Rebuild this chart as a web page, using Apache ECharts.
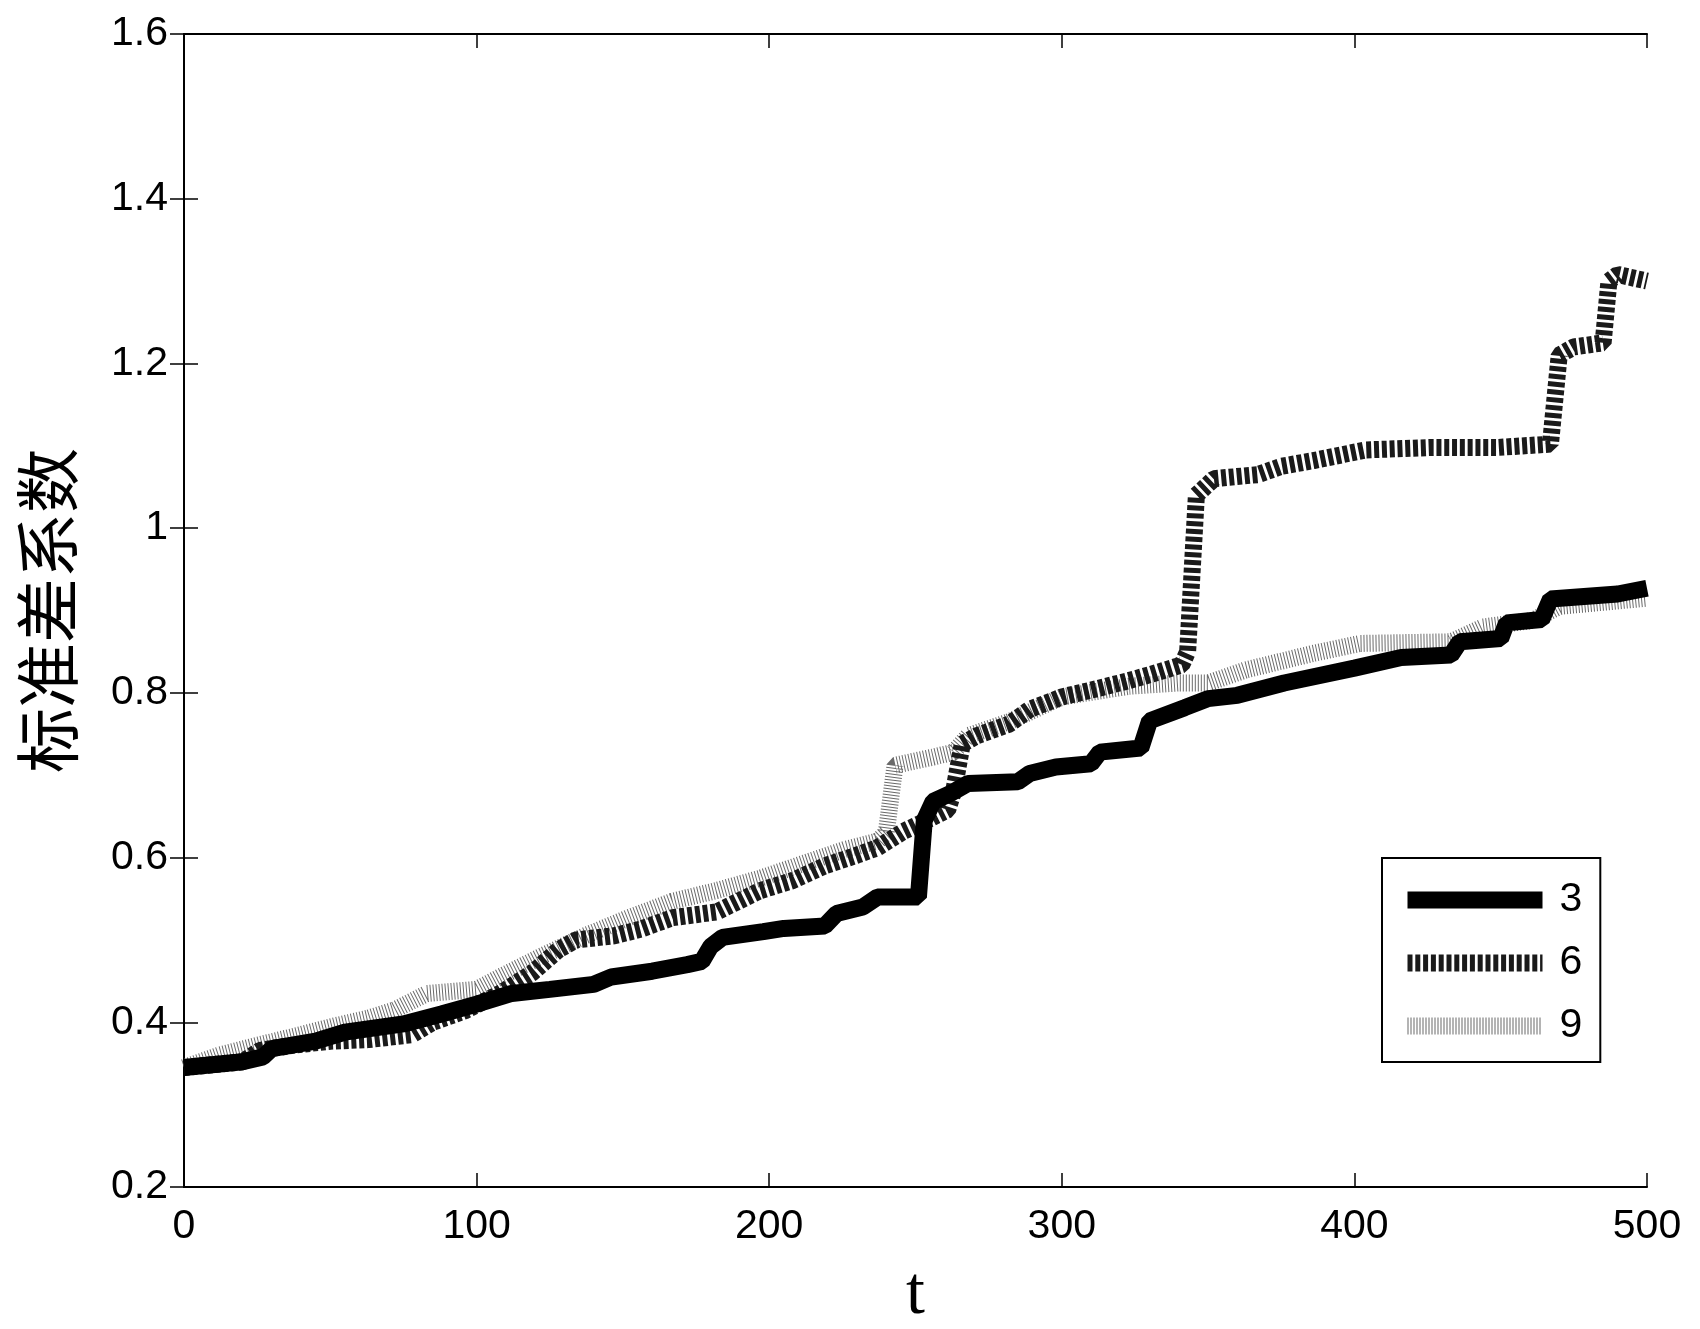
<!DOCTYPE html>
<html>
<head>
<meta charset="utf-8">
<script src="https://cdn.jsdelivr.net/npm/echarts@6/dist/echarts.min.js"></script>
<style>
html,body{margin:0;padding:0;background:#fff;}
#chart{width:1700px;height:1329px;}
</style>
</head>
<body>
<div id="chart"></div>
<script>
// ---- data ----
const seriesNames = ['3', '6', '9'];

const t3 = [0,20,27,30,45,55,75,88,100,112,125,140,146,160,172,177,180,184,198,205,219,223,232,237,251,253,256,262,268,285,289,298,310,313,327,330,342,350,360,376,400,416,433,436,450,452,464,467,490,500];
const v3 = [0.345,0.352,0.358,0.368,0.377,0.388,0.398,0.41,0.422,0.435,0.440,0.446,0.455,0.462,0.470,0.474,0.492,0.503,0.510,0.514,0.517,0.532,0.540,0.552,0.552,0.645,0.668,0.678,0.690,0.692,0.702,0.710,0.714,0.728,0.733,0.766,0.782,0.793,0.797,0.812,0.830,0.843,0.846,0.862,0.866,0.885,0.889,0.914,0.920,0.927];

const t6 = [0,20,26,37,50,63,78,85,96,108,119,128,134,147,156,167,182,197,208,219,230,237,246,252,261,263,266,271,282,289,300,312,323,330,341,343,346,352,367,375,386,397,404,427,449,467,470,475,485,487,490,500];
const v6 = [0.345,0.352,0.366,0.372,0.377,0.379,0.385,0.400,0.414,0.435,0.460,0.488,0.500,0.505,0.513,0.527,0.534,0.560,0.572,0.590,0.603,0.612,0.632,0.642,0.658,0.680,0.738,0.748,0.762,0.780,0.795,0.805,0.815,0.822,0.834,0.850,1.040,1.060,1.065,1.075,1.082,1.090,1.095,1.098,1.098,1.102,1.210,1.220,1.225,1.300,1.308,1.300];

const t9 = [0,12,25,40,52,63,72,83,100,108,122,137,152,167,182,197,211,226,237,240,243,256,263,268,282,300,323,340,350,363,386,402,433,444,461,470,500];
const v9 = [0.345,0.360,0.372,0.385,0.396,0.405,0.415,0.435,0.440,0.455,0.480,0.505,0.527,0.547,0.560,0.575,0.592,0.610,0.620,0.630,0.712,0.722,0.728,0.748,0.765,0.795,0.808,0.812,0.812,0.828,0.848,0.860,0.862,0.880,0.888,0.905,0.915];

const xTicks = [0, 500, 100];      // min, max, interval
const yTicks = [0.2, 1.6, 0.2];    // min, max, interval

const yTitle = '标准差系数';
const xTitle = 't';

function pairs(t, v) { return t.map((x, i) => [x, v[i]]); }

const chart = echarts.init(document.getElementById('chart'), null, {renderer: 'canvas'});
const latin = "'Liberation Sans', Arial, sans-serif";
const axisLineStyle = {lineStyle: {color: '#000', width: 2}};
const tickStyle = {inside: true, length: 14, lineStyle: {color: '#000', width: 1.5}};

const option = {
  backgroundColor: '#fff',
  animation: false,
  grid: {left: 184, top: 34, right: 53, bottom: 142, containLabel: false, outerBoundsMode: 'none'},
  xAxis: [
    {
      type: 'value', min: xTicks[0], max: xTicks[1], interval: xTicks[2],
      position: 'bottom',
      axisLine: axisLineStyle, axisTick: tickStyle, splitLine: {show: false},
      axisLabel: {color: '#000', fontSize: 41, fontFamily: latin, margin: 19},
      name: xTitle, nameLocation: 'middle', nameGap: 74,
      nameTextStyle: {color: '#000', fontSize: 68, fontFamily: "'Liberation Serif', 'Times New Roman', serif", lineHeight: 68}
    },
    {
      type: 'value', min: xTicks[0], max: xTicks[1], interval: xTicks[2],
      position: 'top',
      axisLine: axisLineStyle, axisTick: tickStyle, splitLine: {show: false},
      axisLabel: {show: false}
    }
  ],
  yAxis: [
    {
      type: 'value', min: yTicks[0], max: yTicks[1], interval: yTicks[2],
      position: 'left',
      axisLine: axisLineStyle, axisTick: tickStyle, splitLine: {show: false},
      axisLabel: {color: '#000', fontSize: 41, fontFamily: latin, margin: 16},
      name: yTitle, nameLocation: 'middle', nameGap: 104,
      nameTextStyle: {color: '#000', fontSize: 65, fontFamily: "'Noto Sans CJK SC', sans-serif", lineHeight: 65}
    },
    {
      type: 'value', min: yTicks[0], max: yTicks[1], interval: yTicks[2],
      position: 'right',
      axisLine: axisLineStyle, axisTick: tickStyle, splitLine: {show: false},
      axisLabel: {show: false}
    }
  ],
  legend: {
    orient: 'vertical',
    left: 1382, top: 858,
    padding: [19, 18, 13, 17],
    itemWidth: 135, itemHeight: 17, itemGap: 17,
    borderColor: '#000', borderWidth: 2, backgroundColor: '#fff',
    textStyle: {color: '#000', fontSize: 41, fontFamily: latin, lineHeight: 46, padding: [0, 0, 0, 12]},
    itemStyle: {color: 'rgba(0,0,0,0)', borderWidth: 0},
    lineStyle: {width: 17},
    data: seriesNames
  },
  series: [
    {
      name: seriesNames[2], type: 'line', data: pairs(t9, v9), symbol: 'none',
      lineStyle: {color: '#6a6a6a', width: 17, type: [1, 2], cap: 'butt', join: 'bevel'},
      z: 2
    },
    {
      name: seriesNames[1], type: 'line', data: pairs(t6, v6), symbol: 'none',
      lineStyle: {color: '#1a1a1a', width: 17, type: [5, 2.8], cap: 'butt', join: 'bevel'},
      z: 3
    },
    {
      name: seriesNames[0], type: 'line', data: pairs(t3, v3), symbol: 'none',
      lineStyle: {color: '#000', width: 17, type: 'solid', cap: 'butt', join: 'bevel'},
      z: 4
    }
  ]
};
chart.setOption(option);
</script>
</body>
</html>
